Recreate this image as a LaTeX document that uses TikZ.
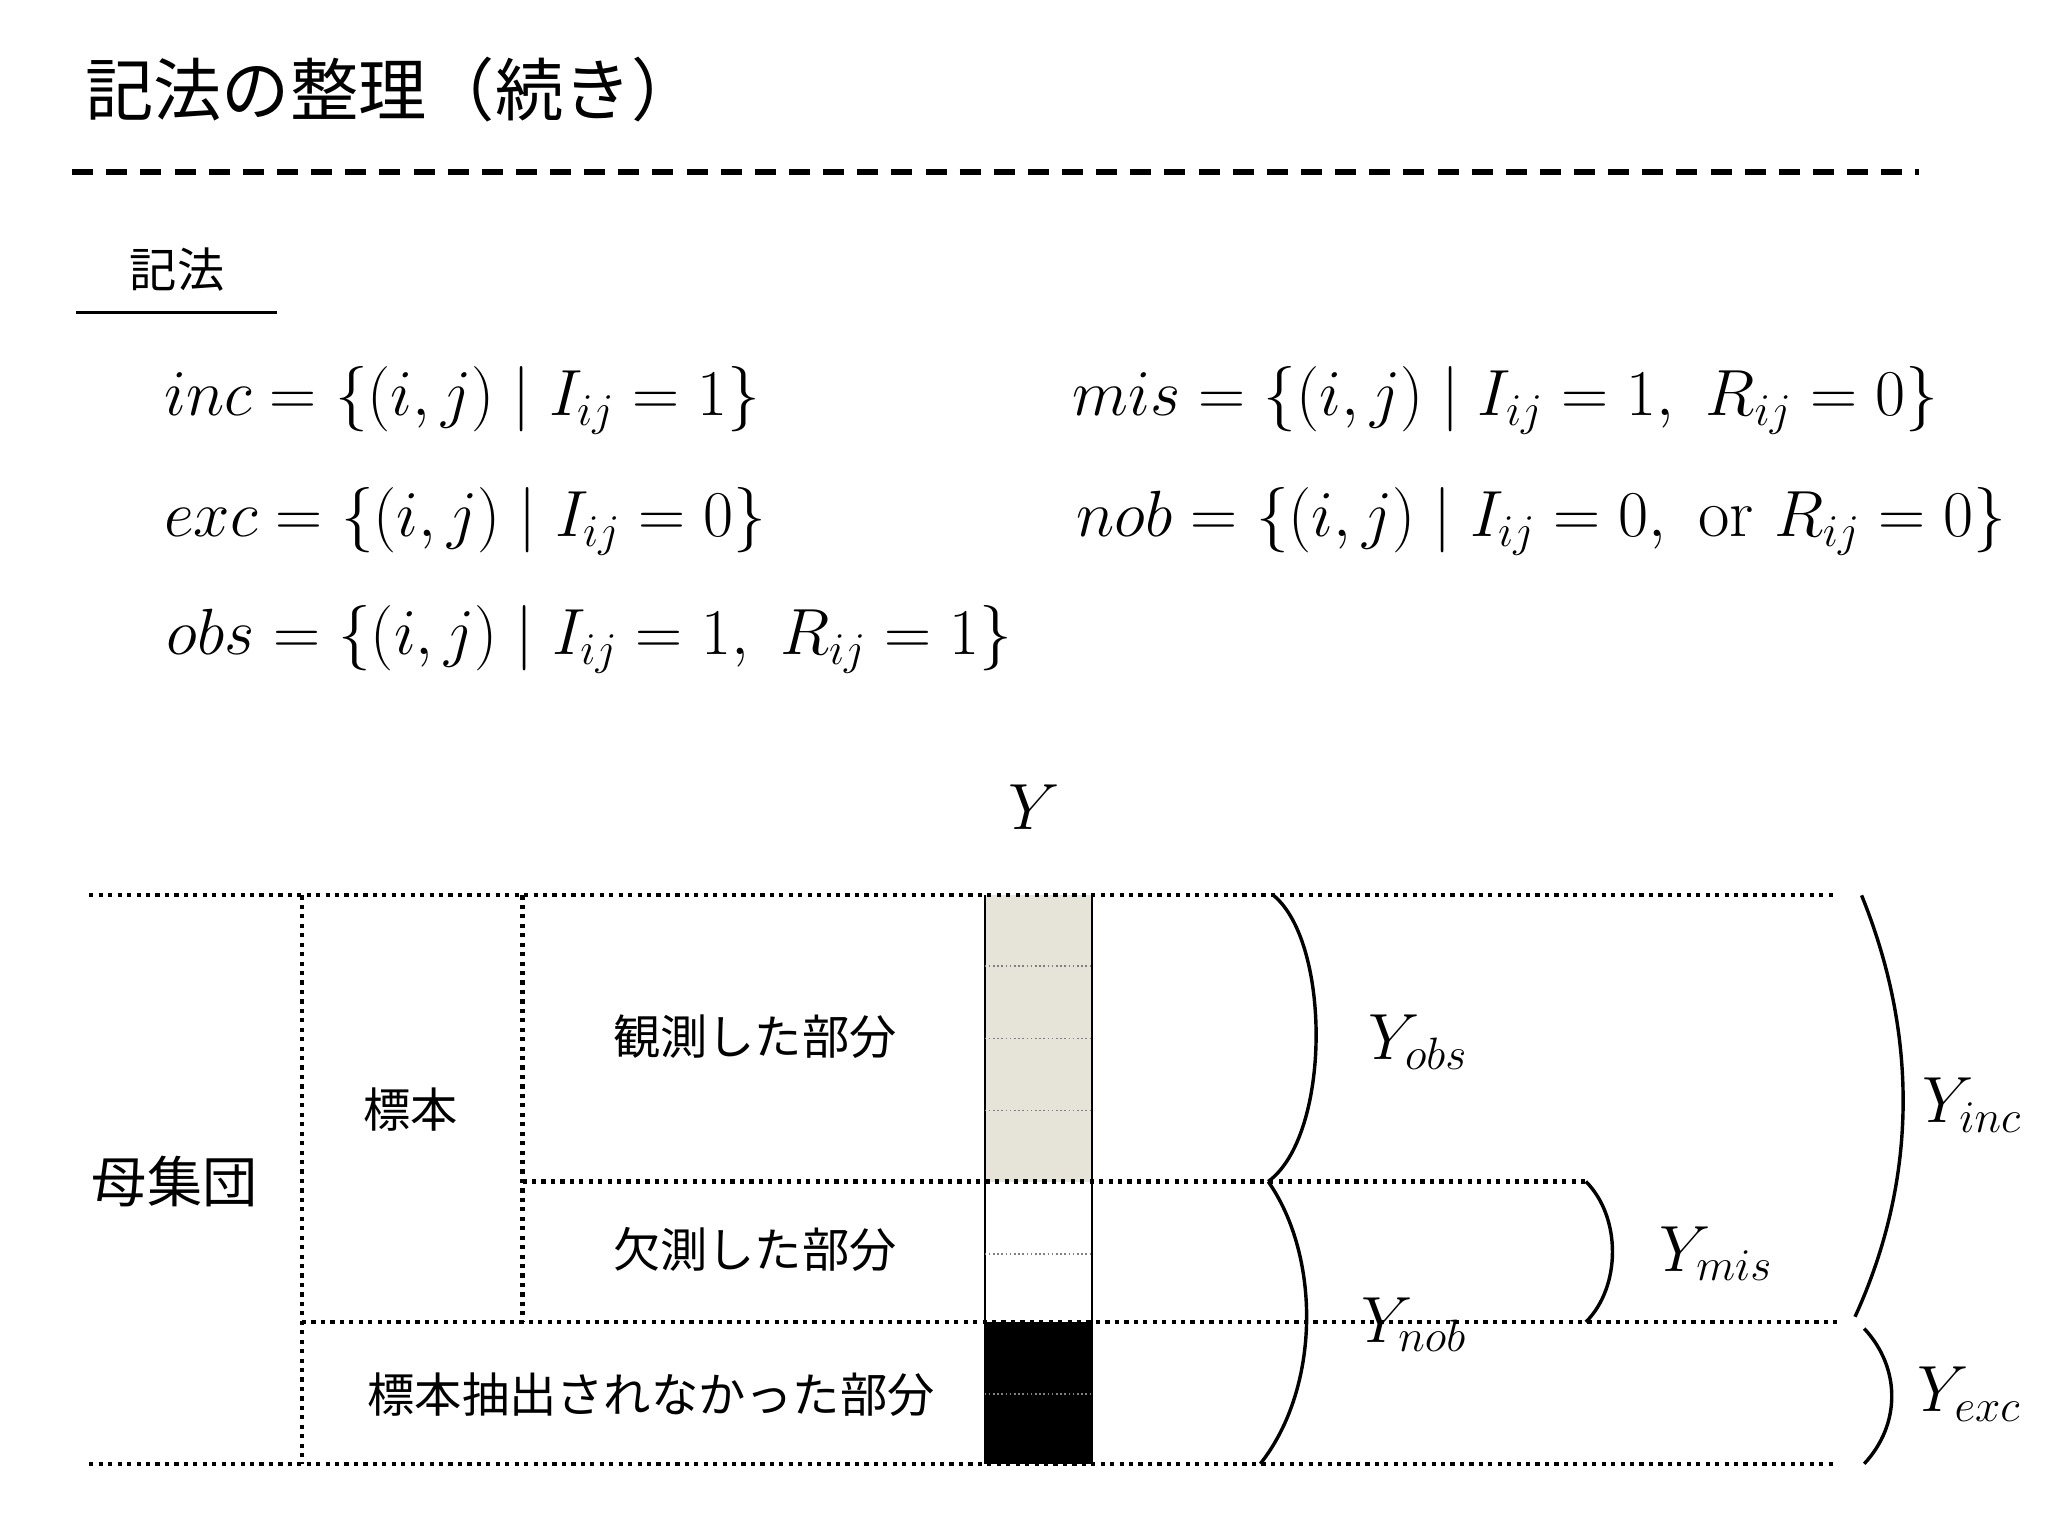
\documentclass[tikz,border=0pt]{standalone}
\usepackage{fontspec}
\newfontfamily\jp{Noto Sans CJK JP}
\begin{document}
\begin{tikzpicture}[x=0.5pt,y=-0.5pt,
  jt/.style={font=\jp\fontsize{18}{20}\selectfont},
  eq/.style={font=\fontsize{26}{30}\selectfont, anchor=west},
  yl/.style={font=\fontsize{25}{28}\selectfont},
  dl/.style={line width=1.6pt, dotted},
  br/.style={line width=1.3pt}]
\useasboundingbox (0,0) rectangle (1560,1170);
\node[font=\jp\fontsize{26}{30}\selectfont, anchor=west] (title) at (58,68) {記法の整理（続き）};
\draw[line width=2pt, dash pattern=on 8pt off 5pt] (55,131) -- (1462,131);
\node[jt] (ki) at (135,205) {記法};
\draw[line width=1.2pt] (58,238) -- (211,238);
\node[eq] (e1) at (118,305) {$inc=\{(i,j)\mid I_{ij}=1\}$};
\node[eq] (e2) at (118,397) {$exc=\{(i,j)\mid I_{ij}=0\}$};
\node[eq] (e3) at (120,487) {$obs=\{(i,j)\mid I_{ij}=1,\ R_{ij}=1\}$};
\node[eq] (e4) at (810,305) {$mis=\{(i,j)\mid I_{ij}=1,\ R_{ij}=0\}$};
\node[eq] (e5) at (813,397) {$nob=\{(i,j)\mid I_{ij}=0,\ \mathrm{or}\ R_{ij}=0\}$};
\node[font=\fontsize{42}{46}\selectfont] (Y) at (788,615) {$Y$};
% column
\fill[fill={rgb,255:red,230;green,227;blue,216}] (750,682) rectangle (832,900);
\fill[black] (750,1007) rectangle (832,1115);
\draw[line width=0.8pt] (750,682) -- (750,1115) (832,682) -- (832,1115);
\foreach \yy in {736,791,846,955}
  \draw[gray, densely dotted, line width=0.6pt] (750,\yy) -- (832,\yy);
\draw[gray, densely dotted, line width=0.6pt] (750,1062) -- (832,1062);
% dotted grid
\draw[dl] (68,682) -- (1397,682);
\draw[dl] (68,1115) -- (1397,1115);
\draw[dl] (230,682) -- (230,1115);
\draw[dl] (398,682) -- (398,1007);
\draw[dl] (398,900) -- (1208,900);
\draw[dl] (230,1007) -- (1403,1007);
% labels
\node[jt] (a) at (575,790) {観測した部分};
\node[jt] (b) at (575,952) {欠測した部分};
\node[jt] (c) at (313,845) {標本};
\node[font=\jp\fontsize{21}{24}\selectfont] (d) at (133,900) {母集団};
\node[jt] (e) at (496,1062) {標本抽出されなかった部分};
% braces
\draw[br] (970,682) .. controls (1014,718) and (1014,865) .. (966,900);
\draw[br] (966,900) .. controls (1006,957) and (1006,1057) .. (960,1115);
\draw[br] (1208,900) .. controls (1235,927) and (1235,980) .. (1208,1007);
\draw[br] (1418,682) .. controls (1461,788) and (1461,898) .. (1413,1003);
\draw[br] (1420,1012) .. controls (1448,1042) and (1448,1085) .. (1420,1115);
\node[yl] (yo) at (1080,794) {$Y_{obs}$};
\node[yl] (yn) at (1077,1009) {$Y_{nob}$};
\node[yl] (ym) at (1307,955) {$Y_{mis}$};
\node[yl] (yi) at (1502,842) {$Y_{inc}$};
\node[yl] (ye) at (1500,1062) {$Y_{exc}$};
\end{tikzpicture}
\end{document}
